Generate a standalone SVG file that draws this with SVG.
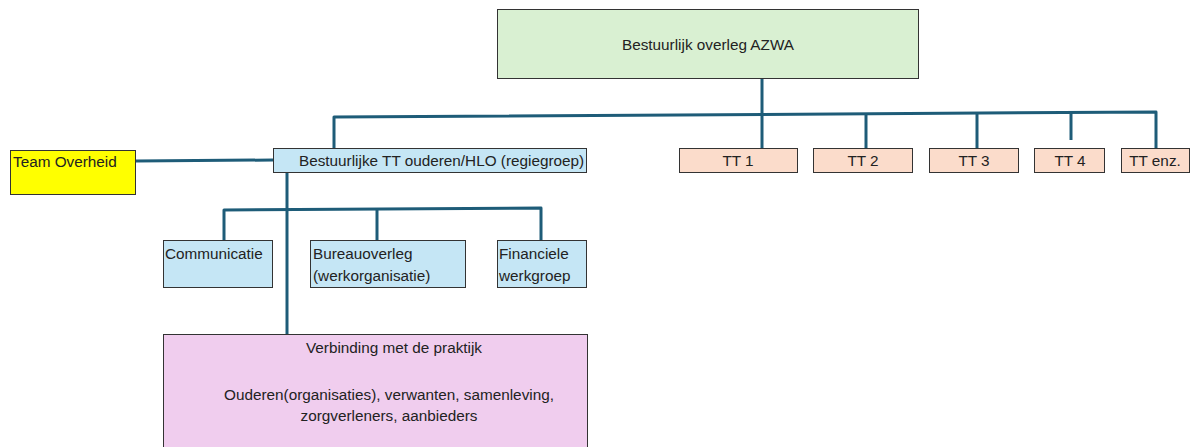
<svg xmlns="http://www.w3.org/2000/svg" width="1196" height="447" viewBox="0 0 1196 447">
<style>
.b{stroke:#333;stroke-width:1}
.t{font-family:"Liberation Sans",Arial,sans-serif;font-size:15.3px;fill:#222}
.c{fill:none;stroke:#1e5c78;stroke-width:3;stroke-linejoin:round}
.tt{fill:#fbdccb}
.bl{fill:#c5e6f5}
</style>
<rect width="1196" height="447" fill="#fff"/>
<g id="connectors">
<polyline class="c" points="762,78 762,148"/>
<polyline class="c" points="334,148 334,117 1156,112 1156,148"/>
<polyline class="c" points="866,114 866,148"/>
<polyline class="c" points="977,113 977,148"/>
<polyline class="c" points="1071,112 1071,140"/>
<polyline class="c" points="136,161 273,160"/>
<polyline class="c" points="287,172 287,334"/>
<polyline class="c" points="224,240 224,210 541,208 541,240"/>
<polyline class="c" points="377,209 377,240"/>
</g>
<g id="azwa"><rect class="b" x="497.5" y="9.5" width="421" height="69" fill="#d9f0d2"/><text class="t" x="708" y="50" text-anchor="middle">Bestuurlijk overleg AZWA</text></g>
<g id="tt1"><rect class="b tt" x="679.5" y="148.5" width="118" height="24"/><text class="t" x="738" y="166" text-anchor="middle">TT 1</text></g>
<g id="tt2"><rect class="b tt" x="813.5" y="148.5" width="99" height="24"/><text class="t" x="863" y="166" text-anchor="middle">TT 2</text></g>
<g id="tt3"><rect class="b tt" x="929.5" y="148.5" width="89" height="24"/><text class="t" x="974" y="166" text-anchor="middle">TT 3</text></g>
<g id="tt4"><rect class="b tt" x="1034.5" y="148.5" width="70" height="24"/><text class="t" x="1070" y="166" text-anchor="middle">TT 4</text></g>
<g id="ttenz"><rect class="b tt" x="1121.5" y="148.5" width="68" height="24"/><text class="t" x="1155" y="166" text-anchor="middle">TT enz.</text></g>
<g id="regiegroep"><rect class="b bl" x="273.5" y="148.5" width="313" height="24"/><text class="t" x="299" y="166">Bestuurlijke TT ouderen/HLO (regiegroep)</text></g>
<g id="overheid"><rect class="b" x="10.5" y="150.5" width="125" height="44" fill="#ffff00"/><text class="t" x="13" y="167">Team Overheid</text></g>
<g id="communicatie"><rect class="b bl" x="163.5" y="240.5" width="109" height="47"/><text class="t" x="165" y="259">Communicatie</text></g>
<g id="bureau"><rect class="b bl" x="310.5" y="240.5" width="155" height="47"/><text class="t" x="313" y="259">Bureauoverleg</text><text class="t" x="313" y="281">(werkorganisatie)</text></g>
<g id="financiele"><rect class="b bl" x="497.5" y="240.5" width="89" height="47"/><text class="t" x="499" y="259">Financiele</text><text class="t" x="499" y="281">werkgroep</text></g>
<g id="praktijk"><rect class="b" x="163.5" y="334.5" width="424" height="120" fill="#f0cdee"/><text class="t" x="394" y="353" text-anchor="middle">Verbinding met de praktijk</text><text class="t" x="389" y="400" text-anchor="middle">Ouderen(organisaties), verwanten, samenleving,</text><text class="t" x="389" y="421" text-anchor="middle">zorgverleners, aanbieders</text></g>
</svg>
